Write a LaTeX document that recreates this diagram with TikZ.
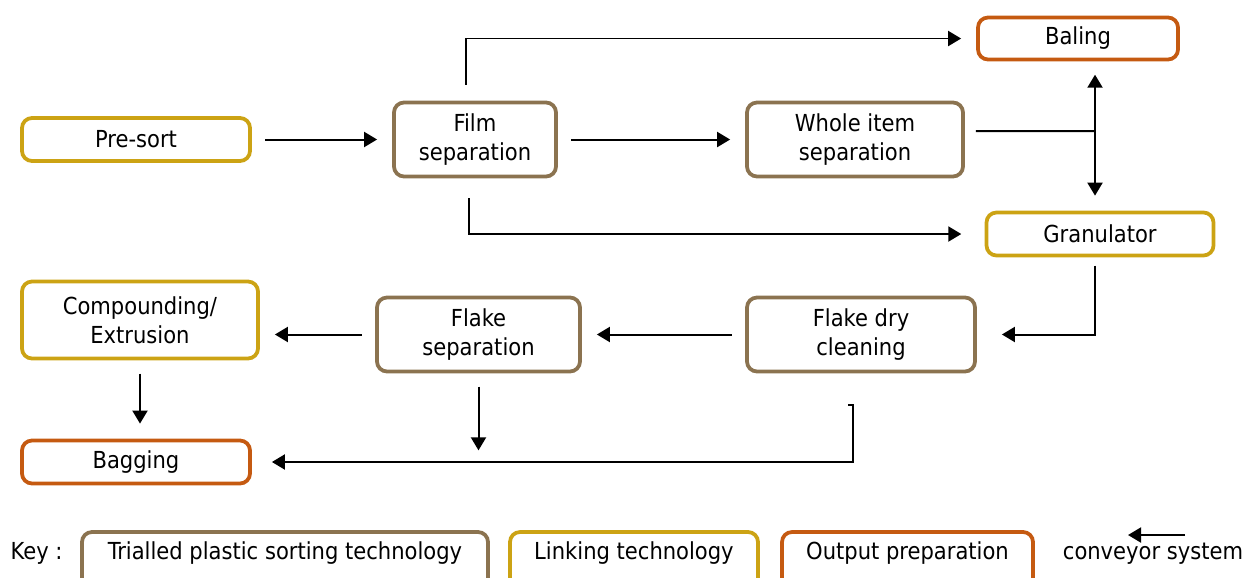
\documentclass[tikz,border=0pt]{standalone}
\usepackage{fontspec}
\setmainfont{DejaVu Sans Condensed}
\usetikzlibrary{positioning, arrows.meta}

\definecolor{sortbrown}{RGB}{139,115,80}
\definecolor{linkgold}{RGB}{204,163,20}
\definecolor{outorange}{RGB}{197,90,17}

\tikzset{
  box/.style={draw, rounded corners=0.3cm, line width=3.2pt, align=center, inner sep=0pt,
    font=\fontsize{20}{24.5}\selectfont},
  sorting/.style={box, draw=sortbrown, minimum height=2.22cm},
  linking/.style={box, draw=linkgold, minimum height=1.29cm},
  output/.style={box, draw=outorange, minimum height=1.29cm},
  keybox/.style={box, anchor=base, text height=0.81cm, text depth=1cm},
  conv/.style={-{Triangle[length=0.39cm,width=0.45cm]}, line width=1.7pt,
    shorten <=0.4cm, shorten >=0.45cm},
  plain/.style={line width=1.7pt},
}

\begin{document}
\begin{tikzpicture}[node distance = 3cm,on grid,auto]
    \useasboundingbox (0,0) rectangle (37.35,-17.31);
    \node[linking, minimum width=6.84cm] (presort) at (4.08,-4.185) {Pre-sort};
    \node[sorting, minimum width=4.86cm] (film) [right = 10.17cm of presort] {Film \\separation};
    \node[sorting, minimum width=6.48cm] (whole) [right = 11.4cm of film] {Whole item \\separation};
    \node[output, minimum width=6.0cm, minimum height=1.26cm] (baling) [above right = 3.03cm and 6.69cm of whole] {Baling};
    \node[linking, minimum width=6.81cm] (granulator) [below right = 2.835cm and 7.35cm of whole] {Granulator};
    \node[sorting, minimum width=6.84cm] (flakedry) [below = 5.85cm of whole, xshift=0.18cm] {Flake dry \\cleaning};
    \node[sorting, minimum width=6.09cm] (flakesep) [left = 11.475cm of flakedry] {Flake \\separation};
    \node[linking, minimum width=7.08cm, minimum height=2.31cm] (compound) [left = 10.155cm of flakesep, yshift=0.435cm] {Compounding/ \\Extrusion};
    \node[output, minimum width=6.84cm] (bagging) [below = 4.26cm of compound, xshift=-0.12cm] {Bagging};

    % free ends of the connectors
    \coordinate (filmtop) at ([xshift=-0.27cm,yshift=0.48cm]film.north);
    \coordinate (filmfoot) at ([xshift=-0.18cm,yshift=-0.6cm]film.south);
    \coordinate (split) at (32.85,-3.93);
    \coordinate (dryfoot) at ([xshift=-0.24cm,yshift=-0.96cm]flakedry.south);

    \path[conv]
    (presort.east) edge (presort.east -| film.west)
    (film.east) edge (film.east -| whole.west)
    (flakedry.west) edge (flakedry.west -| flakesep.east)
    (flakesep.west) edge (flakesep.west -| compound.east)
    (compound.south) edge (compound.south |- bagging.north)
    ;
    \draw[conv, shorten <=0pt] (filmtop) |- (baling.west);
    \draw[conv, shorten <=0pt, shorten >=0.7cm] (filmfoot) |- (granulator.west);
    \draw[plain, shorten <=0.33cm] ([yshift=0.255cm]whole.east) -- (split);
    \draw[conv, {Triangle[length=0.39cm,width=0.45cm]}-{Triangle[length=0.39cm,width=0.45cm]}]
      (split |- baling.south) -- (split |- granulator.north);
    \draw[conv, shorten <=0.25cm, shorten >=0.75cm] (split |- granulator.south) |- (flakedry.east);
    \draw[conv, shorten >=0.35cm] (flakesep.south) -- (flakesep.south |- bagging.east);
    \draw[conv, shorten <=0pt, shorten >=0.6cm] ([xshift=-0.15cm]dryfoot) -- (dryfoot) |- (bagging.east);

    % key
    \node[font=\fontsize{20}{24.5}\selectfont, anchor=base] (key) at (1.1,-16.77) {Key :};
    \node[keybox, draw=sortbrown, minimum width=12.18cm] (keysort) at (8.55,-16.77) {Trialled plastic sorting technology};
    \node[keybox, draw=linkgold, minimum width=7.44cm] (keylink) at (19.02,-16.77) {Linking technology};
    \node[keybox, draw=outorange, minimum width=7.53cm] (keyout) at (27.225,-16.77) {Output preparation};
    \coordinate (convfrom) at (35.55,-16.05);
    \coordinate (convto) at (33.84,-16.05);
    \draw[conv, shorten <=0pt, shorten >=0pt] (convfrom) -- (convto);
    \node[font=\fontsize{20}{24.5}\selectfont, anchor=base] (convtext) at (34.59,-16.77) {conveyor system};
  \end{tikzpicture}
\end{document}
